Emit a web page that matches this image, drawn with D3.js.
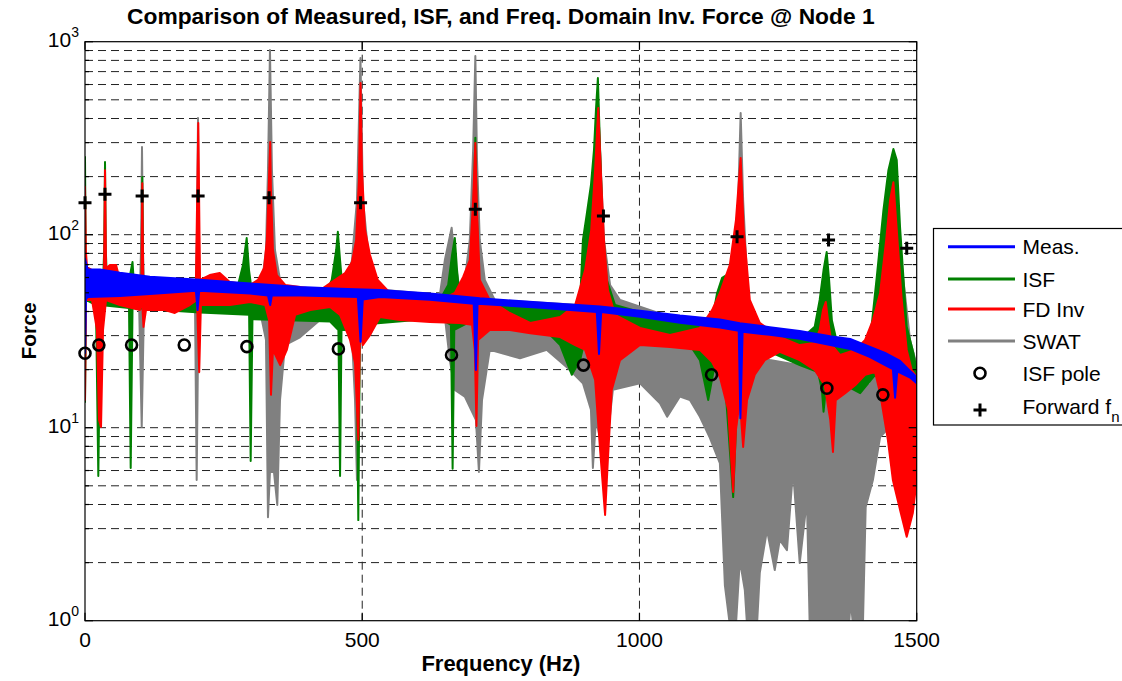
<!DOCTYPE html>
<html>
<head>
<meta charset="utf-8">
<script src="https://cdn.jsdelivr.net/npm/d3@7"></script>
<style>
  body { margin: 0; background: #fff; }
  svg { display: block; font-family: "Liberation Sans", Arial, sans-serif; }
</style>
</head>
<body>
<svg id="chart" width="1122" height="681"></svg>
<script>
// Axis ticks
const xTicks = [0, 500, 1000, 1500];
const yTickExps = [0, 1, 2, 3];

// Each force spectrum oscillates densely, so it is kept as an upper and a
// lower envelope: [frequency (Hz), force]
const measUpper = [[0,75],[1.5,72],[5,66],[27,66],[63,63.5],[117,60.6],[207,58.5],[298,55.8],[388,53.6],[460,52.5],[532,51.7],[622,49.6],[712,46.8],[821,44.5],[929,42.4],[1001,40.4],[1073,38.1],[1145,36.4],[1181,34.8],[1235,33.2],[1289,31.7],[1344,29.8],[1380,28.8],[1416,26.2],[1443,24.4],[1470,22.2],[1488,19.7],[1500,18.3]];
const measLower = [[0,24.4],[1.8,46.5],[5.4,47.6],[63,48.1],[117,49.3],[200,51.2],[203,40.7],[206,51.2],[298,49.6],[330,48.4],[334,43.2],[337,48.4],[388,48.4],[492,47.6],[497,27.9],[501,46.2],[532,47.6],[622,46.0],[701,43.9],[705,19.9],[708,43.9],[821,41.8],[923,39.8],[927,24.1],[931,39.8],[1001,37.6],[1073,35.0],[1145,33.0],[1179,31.8],[1182,11.2],[1186,31.4],[1235,30.3],[1289,28.9],[1344,26.8],[1380,25.6],[1416,23.2],[1443,21.1],[1457,20.1],[1461,14.3],[1465,19.6],[1488,18.2],[1500,17.0]];

const isfUpper = [[0,253],[1.5,65.6],[5.4,58.3],[18,56.2],[32.5,56.2],[34.6,83.3],[36.1,238],[37.5,83.3],[39.7,56.2],[77.5,54.9],[83,65.6],[85.7,72.2],[88.4,54.9],[99,52.9],[101.9,54.9],[103.3,199],[105,52.9],[261.5,50.5],[276,54.9],[285,69.7],[291.6,96.1],[295.8,65.6],[301,50.5],[433,48.7],[445,58.3],[453,83.3],[456,103.5],[460,73.9],[465,50.5],[640,45.9],[655,54.9],[662,78.5],[667,96.1],[671,65.6],[676,45.9],[694,45.9],[700,119],[704,318],[707,119],[712,45.9],[821,43.2],[884,43.2],[893,45.9],[898,93.9],[905,128],[912.5,181],[918,275],[921.5,443],[925,649],[929,275],[934,106],[941,58.3],[956,43.2],[1019,38.4],[1091,35.3],[1131,36.1],[1140,49.9],[1149,59.7],[1163,63.3],[1174,106],[1182.5,216],[1188,83.3],[1194,36.1],[1253,31.0],[1289,28.5],[1316,33.3],[1325,45.9],[1332,65.6],[1337.6,81.3],[1342,58.3],[1347,36.1],[1356,27.8],[1398,25.3],[1416,28.5],[1428,60.4],[1440,134],[1449,216],[1458,278],[1464,244],[1470,109],[1482,33.3],[1494,24.4],[1500,19.9]];
const isfLower = [[0,13.6],[1.8,45.9],[19.8,43.2],[24,5.62],[28,43.2],[79.4,41.7],[82.4,6.19],[85.7,41.7],[207,39.5],[296,38.5],[298.8,6.72],[302,36.5],[442,35.5],[457,32.1],[460,5.62],[462.6,32.1],[489.6,32.1],[492.9,3.32],[496,34.1],[640,37.0],[660,34.1],[663,6.12],[666,32.1],[694,35.3],[712,35.3],[821,34.1],[857,26.8],[878,18.8],[893,22.4],[903.5,30.2],[929,30.2],[956,26.8],[1019,28.5],[1091,26.8],[1109,22.4],[1124,13.9],[1134,19.9],[1154,17.7],[1169,4.37],[1176,13.9],[1190,22.4],[1235,24.7],[1289,21.1],[1322,19.4],[1329,15.7],[1332,12.1],[1336,15.7],[1344,17.7],[1371,16.6],[1398,15.1],[1425,18.8],[1434,17.7],[1500,16.6]];

const fdUpper = [[0,177],[1.5,83.3],[3.6,68],[12.6,65.6],[23.4,61.8],[34.3,61.8],[36.1,216],[37.9,67.2],[45,69.7],[56,69.7],[63,58.3],[81,56.2],[99,56.2],[101.9,58.3],[103.3,185],[105,58.3],[117,54.9],[153,54.9],[189,54.9],[200,56.2],[204.3,379],[207.4,58.3],[225,61.8],[243,63.3],[261,56.9],[298,54.9],[312,58.3],[323,67.2],[328,93.9],[332,204],[334,302],[335.4,170],[339,83.3],[346,61.8],[361,54.9],[388,53.6],[424,51.7],[451,58.3],[469,63.3],[481.5,72.2],[489,93.9],[494,192],[497,611],[499.5,216],[505,106],[514,78.5],[528,58.3],[550,49.9],[604,47.6],[649,47.0],[667,49.9],[682,60.4],[694,73.9],[700,151],[704,299],[707,134],[712,58.3],[730,45.9],[766,39.3],[803,34.9],[857,37.5],[884,43.2],[902,65.6],[913,106],[920,216],[925.7,453],[931,192],[936,93.9],[943,51.7],[956,38.4],[1001,32.9],[1055,30.2],[1109,32.9],[1131,40.7],[1145,49.9],[1163,69.7],[1174,119],[1182.5,250],[1188,106],[1199,45.9],[1217,34.9],[1253,29.5],[1289,26.8],[1316,27.5],[1325,32.1],[1331,40.7],[1336,44.8],[1340,36.1],[1347,26.8],[1362,23.8],[1389,25.3],[1407,28.5],[1421,36.1],[1434,49.9],[1445,93.9],[1452,151],[1458,187],[1464,106],[1473,45.9],[1482,25.3],[1491,19.9],[1500,18.3]];
const fdLower = [[0,13.9],[1.8,45.9],[12.6,45.9],[21.6,32.1],[25.2,11.0],[28.9,10.1],[32.5,32.1],[37.9,45.9],[63,43.2],[99,40.7],[102.8,45.9],[105.5,33.3],[110,40.7],[144,40.7],[162,39.3],[189,43.2],[202,45.9],[206,19.4],[209,43.2],[261,43.2],[298,44.8],[325,43.2],[332,36.1],[335.4,14.8],[339,25.3],[352,21.1],[364,25.3],[379,38.4],[406,40.7],[442,42.2],[460,38.4],[478,28.5],[487,21.6],[493,8.64],[496,32.1],[501,26.8],[514,30.2],[532,37.5],[568,36.1],[622,35.3],[676,34.9],[698,34.1],[703,25.3],[706,10.2],[709,28.5],[730,32.1],[766,32.1],[803,30.9],[857,29.5],[884,26.8],[902,25.3],[920,17.7],[929,7.66],[938,3.53],[943,6.80],[950,15.7],[965,22.4],[1001,26.8],[1055,26.2],[1109,25.3],[1131,21.9],[1145,18.3],[1160,12.4],[1169,4.64],[1174,9.73],[1181,13.9],[1187,7.94],[1194,13.9],[1208,18.8],[1226,22.4],[1253,24.7],[1289,22.4],[1316,19.9],[1334,16.6],[1344,11.0],[1349,7.48],[1354,13.9],[1371,15.1],[1389,16.6],[1407,18.8],[1425,19.4],[1434,15.1],[1448,8.64],[1457,5.36],[1470,3.75],[1482,2.72],[1493,3.61],[1500,5.36]];

const swatUpper = [[0,100.8],[1.8,51.7],[99,51.7],[101,83.3],[102.8,285],[104.6,83.3],[106.4,51.7],[200,51.7],[202,106],[203.8,402],[205.6,106],[207,51.7],[306.6,50.5],[319,56.2],[326.4,83.3],[330,216],[333.6,906],[337.2,216],[342.6,83.3],[351.7,58.3],[369.7,51.7],[468.9,52.9],[481.5,73.9],[490.5,151],[496.8,823],[501.3,151],[510.4,83.3],[523,58.3],[541,51.7],[640,48.7],[649,73.9],[661.3,108.6],[667,73.9],[676,51.7],[685,58.3],[694,93.9],[700,275],[704,843],[707,244],[712,93.9],[721,58.3],[739,45.9],[893,43.2],[902,45.9],[911,73.9],[925,499],[936,93.9],[947,54.9],[965,45.9],[1073,36.1],[1145,30.2],[1169,45.9],[1178,151],[1182.5,427],[1187,151],[1196,45.9],[1208,25.3],[1235,22.4],[1289,21.1],[1325,22.4],[1336,65.6],[1344,36.1],[1362,18.8],[1416,16.6],[1434,45.9],[1448,151],[1457,230],[1470,83.3],[1488,28.5],[1500,21.1]];
const swatLower = [[0,45.9],[97.4,45.9],[102.3,10.1],[106.4,43.2],[198.4,43.2],[201.4,5.36],[204.7,43.2],[297.6,43.2],[319,36.1],[326.4,28.5],[330,3.44],[333.6,5.9],[340.8,5.9],[346.8,3.98],[351.7,13.9],[360.7,26.8],[387.7,29.4],[423.8,36.1],[450.9,39.7],[468.9,34.9],[481.5,29.4],[487,13.9],[490.5,5.36],[494.1,28.5],[514,30.2],[532,39.3],[649,37.5],[658,22.4],[667,15.7],[685,14.5],[705,11.0],[710.5,5.9],[716,13.9],[730,25.3],[784.5,22.9],[833,25.3],[869,20.6],[898,17.0],[912.5,12.4],[916,6.19],[921.5,11.0],[938,6.8],[952,15.7],[1001,17.0],[1037,13.4],[1050,11.4],[1073,14.5],[1091,13.9],[1109,11.4],[1127,8.85],[1145,6.56],[1154,1.53],[1163,0.95],[1174,0.95],[1181,2.06],[1190,1.44],[1194,0.95],[1212,0.95],[1217,1.77],[1230,2.95],[1244,1.83],[1253,2.62],[1266,2.32],[1277,6.04],[1289,1.99],[1302,4.22],[1307,0.95],[1378,0.95],[1381,1.28],[1385,0.95],[1403,0.95],[1408,3.88],[1421,5.36],[1434,8.95],[1446,9.73],[1470,6.04],[1500,5.36]];

// Identified poles and forward-model natural frequencies: [frequency (Hz), force]
const isfPoles = [[0,24.3],[25,26.8],[84,26.8],[179,26.8],[292,26.3],[457,25.6],[661,23.8],[899,21.1],[1130,18.8],[1338,16.0],[1439,14.8]];
const forwardFn = [[0,146.5],[36,162],[103,158.7],[204,158.7],[332,155.5],[497,146.5],[704,135.4],[935,125],[1176,97.6],[1341,93.9],[1482,85.0]];

const series = [
  { name: "Meas.",  color: "#0000ff", upper: measUpper, lower: measLower, layer: 3 },
  { name: "ISF",    color: "#008000", upper: isfUpper,  lower: isfLower,  layer: 1 },
  { name: "FD Inv", color: "#ff0000", upper: fdUpper,   lower: fdLower,   layer: 2 },
  { name: "SWAT",   color: "#808080", upper: swatUpper, lower: swatLower, layer: 0 }
];

const svg = d3.select("#chart");
const pL = 85, pR = 916.7, pT = 41.7, pB = 620.7;

const x = d3.scaleLinear().domain([0, 1500]).range([pL, pR]);
const y = d3.scaleLog().domain([1, 1000]).range([pB, pT]);

svg.append("defs").append("clipPath").attr("id", "plotClip")
  .append("rect").attr("x", pL).attr("y", pT)
  .attr("width", pR - pL).attr("height", pB - pT);

// Grid: all log decades and their minor steps, plus the inner x ticks
const gridVals = [];
for (let e = 0; e < 3; e++) for (let m = 1; m <= 9; m++) if (!(e === 0 && m === 1)) gridVals.push(m * Math.pow(10, e));
const grid = svg.append("g").attr("stroke", "#222").attr("stroke-width", 1).attr("stroke-dasharray", "8,5");
grid.selectAll("line.h").data(gridVals).join("line").attr("class", "h")
  .attr("x1", pL).attr("x2", pR).attr("y1", d => y(d)).attr("y2", d => y(d));
grid.selectAll("line.v").data(xTicks.slice(1, -1)).join("line").attr("class", "v")
  .attr("x1", d => x(d)).attr("x2", d => x(d)).attr("y1", pT).attr("y2", pB);

// Spectra: SWAT at the back, then ISF, FD Inv, and the measurement on top
const line = d3.line().x(d => x(d[0])).y(d => y(d[1]));
const plot = svg.append("g").attr("clip-path", "url(#plotClip)");
series.slice().sort((a, b) => a.layer - b.layer).forEach(s => {
  const ring = s.upper.concat(s.lower.slice().reverse());
  plot.append("path").attr("d", line(ring) + "Z")
    .attr("fill", s.color).attr("stroke", s.color)
    .attr("stroke-width", 2).attr("stroke-linejoin", "round");
});

// Markers
const marks = svg.append("g").attr("stroke", "#000").attr("fill", "none");
marks.selectAll("circle").data(isfPoles).join("circle")
  .attr("cx", d => x(d[0])).attr("cy", d => y(d[1])).attr("r", 5.5).attr("stroke-width", 2.6);
marks.selectAll("path").data(forwardFn).join("path")
  .attr("d", d => `M${x(d[0]) - 6.5},${y(d[1])}H${x(d[0]) + 6.5}M${x(d[0])},${y(d[1]) - 6.5}V${y(d[1]) + 6.5}`)
  .attr("stroke-width", 3);

// Axes box and inward ticks
const axes = svg.append("g").attr("stroke", "#000").attr("stroke-width", 1.2);
axes.append("rect").attr("x", pL).attr("y", pT).attr("width", pR - pL).attr("height", pB - pT).attr("fill", "none");
xTicks.forEach(t => {
  axes.append("line").attr("x1", x(t)).attr("x2", x(t)).attr("y1", pB).attr("y2", pB - 8);
  axes.append("line").attr("x1", x(t)).attr("x2", x(t)).attr("y1", pT).attr("y2", pT + 8);
});
gridVals.concat([1, 1000]).forEach(v => {
  const major = Math.abs(Math.log10(v) - Math.round(Math.log10(v))) < 1e-9;
  const len = major ? 8 : 4;
  axes.append("line").attr("x1", pL).attr("x2", pL + len).attr("y1", y(v)).attr("y2", y(v));
  axes.append("line").attr("x1", pR).attr("x2", pR - len).attr("y1", y(v)).attr("y2", y(v));
});

// Tick labels
svg.append("g").selectAll("text").data(xTicks).join("text")
  .attr("x", d => x(d)).attr("y", pB + 26.5).attr("text-anchor", "middle")
  .attr("font-size", 21).text(d => d);
const yl = svg.append("g").selectAll("text").data(yTickExps).join("text")
  .attr("x", 79).attr("y", d => y(Math.pow(10, d)) + 5.5).attr("text-anchor", "end").attr("font-size", 21);
yl.append("tspan").text("10");
yl.append("tspan").attr("dy", -10).attr("font-size", 14).text(d => d);

// Titles
svg.append("text").attr("x", (pL + pR) / 2).attr("y", 24).attr("text-anchor", "middle")
  .attr("font-size", 22.8).attr("font-weight", "bold")
  .text("Comparison of Measured, ISF, and Freq. Domain Inv. Force @ Node 1");
svg.append("text").attr("x", (pL + pR) / 2).attr("y", 671).attr("text-anchor", "middle")
  .attr("font-size", 22).attr("font-weight", "bold").text("Frequency (Hz)");
svg.append("text").attr("transform", "translate(36,331) rotate(-90)").attr("text-anchor", "middle")
  .attr("font-size", 21).attr("font-weight", "bold").text("Force");

// Legend
const lg = svg.append("g");
lg.append("rect").attr("x", 933.5).attr("y", 228.5).attr("width", 200).attr("height", 196.5)
  .attr("fill", "#fff").attr("stroke", "#000").attr("stroke-width", 1.2);
const rowY = [246.7, 279, 309, 341, 373.3, 410];
series.forEach((s, i) => {
  lg.append("line").attr("x1", 948).attr("x2", 1015).attr("y1", rowY[i]).attr("y2", rowY[i])
    .attr("stroke", s.color).attr("stroke-width", 3);
  lg.append("text").attr("x", 1022.5).attr("y", rowY[i] + 7.5).attr("font-size", 21).text(s.name);
});
lg.append("circle").attr("cx", 980).attr("cy", rowY[4]).attr("r", 5.5)
  .attr("fill", "none").attr("stroke", "#000").attr("stroke-width", 2.6);
lg.append("text").attr("x", 1022.5).attr("y", rowY[4] + 7.5).attr("font-size", 21).text("ISF pole");
lg.append("path").attr("d", `M973.5,${rowY[5]}H986.5M980,${rowY[5] - 6.5}V${rowY[5] + 6.5}`)
  .attr("stroke", "#000").attr("stroke-width", 3);
const fwd = lg.append("text").attr("x", 1022.5).attr("y", rowY[5] + 4).attr("font-size", 21);
fwd.append("tspan").text("Forward f");
fwd.append("tspan").attr("dy", 8).attr("font-size", 15).text("n");
</script>
</body>
</html>
